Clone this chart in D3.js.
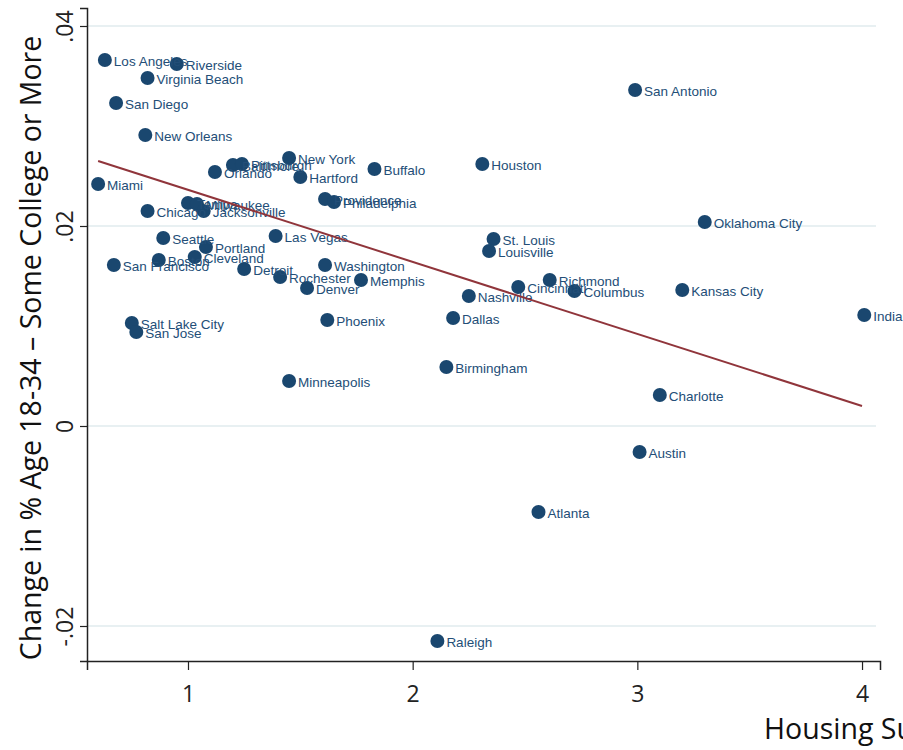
<!DOCTYPE html>
<html>
<head>
<meta charset="utf-8">
<script src="https://cdn.jsdelivr.net/npm/d3@7"></script>
<style>
  html, body { margin:0; padding:0; background:#fff; }
  svg { display:block; }
</style>
</head>
<body>
<div id="chart"></div>
<script>
// Scatter of metro areas with fitted line
const cities = ['Los Angeles','Riverside','Virginia Beach','San Diego','New Orleans','Miami','Orlando','Baltimore','Pittsburgh','New York',
  'Hartford','Buffalo','Houston','San Antonio','Oklahoma City','Providence','Philadelphia','Chicago','Tampa','Milwaukee',
  'Jacksonville','Las Vegas','Seattle','Portland','Boston','Cleveland','San Francisco','Detroit','Rochester','Denver',
  'Washington','Memphis','Phoenix','Salt Lake City','San Jose','Minneapolis','St. Louis','Louisville','Nashville','Dallas',
  'Cincinnati','Richmond','Columbus','Kansas City','Indianapolis','Charlotte','Austin','Atlanta','Birmingham','Raleigh'];
const elasticity = [0.63,0.95,0.82,0.68,0.81,0.60,1.12,1.20,1.24,1.45,
  1.50,1.83,2.31,2.99,3.30,1.61,1.65,0.82,1.00,1.04,
  1.07,1.39,0.89,1.08,0.87,1.03,0.67,1.25,1.41,1.53,
  1.61,1.77,1.62,0.75,0.77,1.45,2.36,2.34,2.25,2.18,
  2.47,2.61,2.72,3.20,4.01,3.10,3.01,2.56,2.15,2.11];
const change = [0.0366,0.0362,0.0348,0.0323,0.0291,0.0242,0.0254,0.0261,0.0262,0.0268,
  0.0249,0.0257,0.0262,0.0336,0.0204,0.0227,0.0224,0.0215,0.0223,0.0222,
  0.0215,0.0190,0.0188,0.0179,0.0166,0.0169,0.0161,0.0157,0.0149,0.0138,
  0.0161,0.0146,0.0106,0.0103,0.0094,0.0045,0.0187,0.0175,0.0130,0.0108,
  0.0139,0.0146,0.0135,0.0136,0.0111,0.0031,-0.0026,-0.0086,0.0059,-0.0215];
const fitX = [0.6, 4.0];
const fitY = [0.0265, 0.0020];
const xTicks = [1, 2, 3, 4];
const yTicks = [-0.02, 0, 0.02, 0.04];
const yTickLabels = ['-.02', '0', '.02', '.04'];

const width = 903, height = 750;
const navy = '#1a476f';
const titleFont = 'Open Sans, sans-serif';

const svg = d3.select('#chart').append('svg')
  .attr('width', width).attr('height', height);

const x = d3.scaleLinear().domain([0.5505, 4.08]).range([87, 880]);
const y = d3.scaleLinear().domain([-0.0235, 0.0418]).range([661, 8]);

// gridlines
svg.append('g').selectAll('line').data(yTicks).enter().append('line')
  .attr('x1', 88).attr('x2', 876)
  .attr('y1', d => y(d)).attr('y2', d => y(d))
  .attr('stroke', '#e8f0f2').attr('stroke-width', 2);

// axes
const xAxis = g => g
  .attr('transform', `translate(0,${y.range()[0]})`)
  .call(d3.axisBottom(x).tickValues(xTicks).tickFormat(d3.format('d')).tickSize(9).tickPadding(16))
  .call(g => g.select('.domain').attr('stroke', '#222').attr('stroke-width', 1.5))
  .call(g => g.selectAll('.tick line').attr('stroke', '#222').attr('stroke-width', 1.2))
  .call(g => g.selectAll('.tick text').attr('font-family', titleFont).attr('font-size', 23).attr('fill', '#222'));

const yAxis = g => g
  .attr('transform', `translate(${x.range()[0]},0)`)
  .call(d3.axisLeft(y).tickValues(yTicks).tickFormat((d, i) => yTickLabels[i]).tickSize(7))
  .call(g => g.select('.domain').attr('stroke', '#222').attr('stroke-width', 1.5))
  .call(g => g.selectAll('.tick line').attr('stroke', '#222').attr('stroke-width', 1.2))
  .call(g => g.selectAll('.tick text')
    .attr('font-family', titleFont).attr('font-size', 23).attr('fill', '#222')
    .attr('text-anchor', 'middle').attr('dy', null).attr('dominant-baseline', 'central')
    .attr('x', 0).attr('y', -23).attr('transform', 'rotate(-90)'));

svg.append('g').call(xAxis);
svg.append('g').call(yAxis);

// points
const pts = cities.map((c, i) => ({ name: c, ex: elasticity[i], ch: change[i] }));

svg.append('g').selectAll('circle').data(pts).enter().append('circle')
  .attr('cx', d => x(d.ex)).attr('cy', d => y(d.ch))
  .attr('r', 7).attr('fill', navy);

svg.append('g').selectAll('text').data(pts).enter().append('text')
  .attr('x', d => x(d.ex) + 9).attr('y', d => y(d.ch) + 1)
  .attr('dominant-baseline', 'central')
  .attr('font-family', 'Liberation Sans, Arial, sans-serif').attr('font-size', 13.5)
  .attr('fill', '#234e77')
  .text(d => d.name);

// fitted line
svg.append('line')
  .attr('x1', x(fitX[0])).attr('y1', y(fitY[0]))
  .attr('x2', x(fitX[1])).attr('y2', y(fitY[1]))
  .attr('stroke', '#90353b').attr('stroke-width', 2);

// axis titles
svg.append('text')
  .attr('transform', 'translate(30,348) rotate(-90)')
  .attr('text-anchor', 'middle').attr('dominant-baseline', 'central')
  .attr('font-family', titleFont).attr('font-size', 28.5).attr('fill', '#111')
  .text('Change in % Age 18-34 – Some College or More');

svg.append('text')
  .attr('x', 764).attr('y', 739)
  .attr('font-family', titleFont).attr('font-size', 28.5).attr('fill', '#111')
  .text('Housing Supply Elasticity');
</script>
</body>
</html>
